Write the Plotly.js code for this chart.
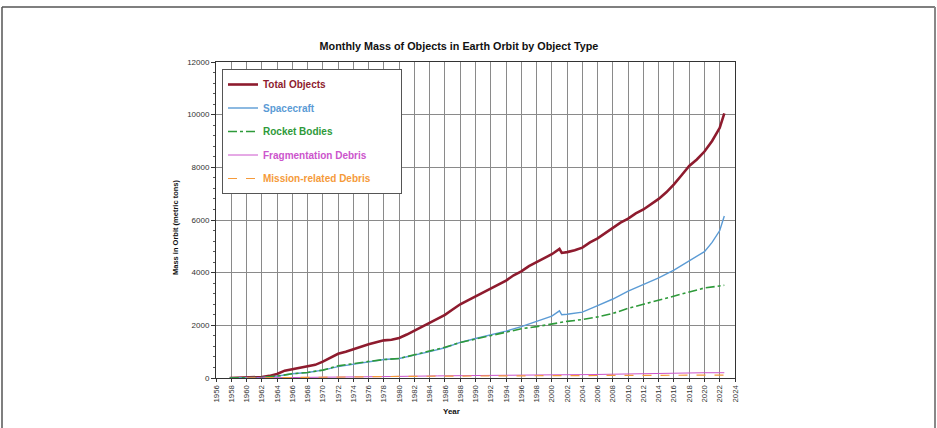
<!DOCTYPE html>
<html>
<head>
<meta charset="utf-8">
<script src="https://cdn.plot.ly/plotly-3.0.1.min.js"></script>
<style>
html,body{margin:0;padding:0;background:#fff;}
#chart{width:937px;height:428px;}
</style>
</head>
<body>
<div id="chart"></div>
<script>
// ---- data (tonnes) ----
const totalYears = [1957.8,1960,1962,1963,1964,1965,1966,1967,1968,1969,1970,1971,1972,1973,1974,1975,1976,1977,1978,1979,1980,1981,1982,1983,1984,1985,1986,1987,1988,1989,1990,1991,1992,1993,1994,1995,1996,1997,1998,1999,2000,2001,2001.3,2002,2003,2004,2005,2006,2007,2008,2009,2010,2011,2012,2013,2014,2015,2016,2017,2018,2019,2020,2021,2022,2022.6];
const totalMass = [0,10,40,80,150,280,330,380,430,500,620,780,920,1000,1100,1180,1280,1360,1430,1450,1520,1650,1800,1950,2100,2250,2400,2600,2800,2950,3100,3250,3400,3550,3700,3900,4050,4250,4400,4550,4700,4900,4750,4780,4850,4950,5150,5300,5500,5700,5900,6050,6250,6400,6600,6800,7050,7350,7700,8050,8300,8600,9000,9500,10050];

const scYears = [1957.8,1960,1962,1964,1966,1968,1970,1972,1974,1976,1978,1980,1982,1984,1986,1988,1990,1992,1994,1996,1998,2000,2001,2001.3,2002,2004,2006,2008,2010,2012,2014,2016,2018,2019,2020,2021,2022,2022.6];
const scMass = [0,5,20,70,160,210,300,430,520,620,700,740,860,1000,1150,1350,1500,1640,1780,1950,2150,2350,2550,2400,2420,2500,2750,3000,3300,3550,3800,4100,4450,4600,4800,5150,5600,6150];

const rbYears = [1957.8,1960,1962,1964,1966,1968,1970,1972,1974,1976,1978,1980,1982,1984,1986,1988,1990,1992,1994,1996,1998,2000,2002,2004,2006,2008,2010,2012,2014,2016,2018,2020,2022.6];
const rbMass = [0,5,20,70,160,210,300,460,550,630,700,740,880,1030,1170,1350,1480,1620,1750,1870,1950,2050,2150,2220,2320,2450,2650,2800,2950,3100,3250,3420,3520];

const fdYears = [1960,1965,1970,1975,1980,1985,1990,1995,2000,2005,2010,2015,2020,2022.6];
const fdMass = [0,10,20,40,60,80,100,110,120,130,160,180,200,200];

const mrdYears = [1960,1965,1970,1975,1980,1985,1990,2000,2010,2022.6];
const mrdMass = [0,20,40,50,60,70,80,90,100,110];

const tickYears = [];
for (let y = 1956; y <= 2024; y += 2) tickYears.push(y);
const tickLabels = tickYears.map(String);

const names = ['Total Objects','Spacecraft','Rocket Bodies','Fragmentation Debris','Mission-related Debris'];
const colors = ['#8E1B2E','#5B9BD5','#2E9A3A','#CC55CC','#F59A3A'];

function lbl(i, pad){ return '<span style="color:'+colors[i]+'"><b>'+names[i]+'</b></span>' + (pad || ''); }
const nb = '&nbsp;'.repeat(9);

const traces = [
  {x: totalYears, y: totalMass, name: lbl(0), legendgroup:'a', mode:'lines', line:{color:colors[0], width:2.6}},
  {x: scYears, y: scMass, name: lbl(1), legendgroup:'b', mode:'lines', line:{color:colors[1], width:1.4}},
  {x: rbYears, y: rbMass, name: lbl(2), legendgroup:'c', mode:'lines', line:{color:colors[2], width:1.6, dash:'dashdot'}},
  {x: fdYears, y: fdMass, name: lbl(3), legendgroup:'d', mode:'lines', line:{color:colors[3], width:1}},
  {x: mrdYears, y: mrdMass, name: lbl(4, nb), legendgroup:'e', mode:'lines', line:{color:colors[4], width:1.2, dash:'dash'}}
];

const L = 216, R = 735, T = 62, B = 378, W = 937, H = 428;
const pw = R - L, ph = B - T;
const px = v => (v - L) / pw;
const py = v => (B - v) / ph;

const layout = {
  width: W, height: H,
  margin: {l: L, r: W - R, t: T, b: H - B, pad: 0},
  paper_bgcolor: '#fff', plot_bgcolor: '#fff',
  font: {family: 'Liberation Sans, Arial, sans-serif', size: 8, color: '#222'},
  title: {text: '<b>Monthly Mass of Objects in Earth Orbit by Object Type</b>',
          font: {size: 10.8, color: '#111'}, xref: 'paper', x: px(459), xanchor: 'center',
          yref: 'container', y: 1 - 46 / H, yanchor: 'middle'},
  xaxis: {range: [1956, 2024], tickmode: 'array', tickvals: tickYears, ticktext: tickLabels,
          tickangle: -90, ticks: 'outside', ticklen: 3, tickcolor: '#333',
          showgrid: true, gridcolor: '#8a8a8a', gridwidth: 1,
          showline: true, linecolor: '#333', linewidth: 1, mirror: true,
          zeroline: false, tickfont: {size: 7.8, color: '#333'}},
  yaxis: {range: [0, 12000], dtick: 2000, ticks: 'outside', ticklen: 4, tickcolor: '#333',
          minor: {dtick: 400, ticks: 'outside', ticklen: 2, tickcolor: '#555', showgrid: false},
          showgrid: true, gridcolor: '#8a8a8a', gridwidth: 1,
          showline: true, linecolor: '#333', linewidth: 1, mirror: true,
          zeroline: false, tickfont: {size: 8, color: '#333'}, tickformat: 'd'},
  showlegend: true,
  legend: {x: px(222), y: py(69), xanchor: 'left', yanchor: 'top',
           bgcolor: '#fff', bordercolor: '#555', borderwidth: 1,
           font: {size: 10}, tracegroupgap: 4.5, itemwidth: 30},
  annotations: [
    {text: '<b>Mass in Orbit (metric tons)</b>', xref: 'paper', yref: 'paper',
     x: px(175), y: py(227), textangle: -90, showarrow: false,
     font: {size: 7.5, color: '#111'}, xanchor: 'center', yanchor: 'middle'},
    {text: '<b>Year</b>', xref: 'paper', yref: 'paper', x: px(451), y: py(412),
     showarrow: false, font: {size: 8, color: '#111'}, xanchor: 'center', yanchor: 'middle'}
  ],
  shapes: [
    {type: 'line', xref: 'paper', yref: 'paper', x0: px(2), x1: px(935), y0: py(7), y1: py(7), line: {color: '#555', width: 1.5}},
    {type: 'line', xref: 'paper', yref: 'paper', x0: px(2), x1: px(2), y0: py(7), y1: py(430), line: {color: '#555', width: 1.5}},
    {type: 'line', xref: 'paper', yref: 'paper', x0: px(935), x1: px(935), y0: py(7), y1: py(430), line: {color: '#888', width: 2}}
  ]
};

Plotly.newPlot('chart', traces, layout, {staticPlot: true, displayModeBar: false});
</script>
</body>
</html>
